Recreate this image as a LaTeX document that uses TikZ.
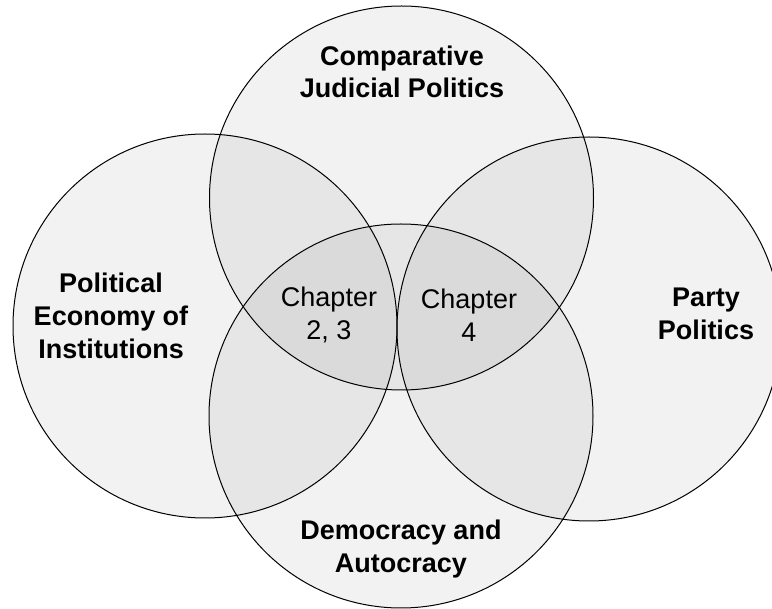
\documentclass[tikz,border=0pt]{standalone}
\usepackage{fontspec}
\setmainfont{Liberation Sans}
\tikzset{
  venn/.style={draw=black, line width=0.75, fill=black, fill opacity=0.05},
  field/.style={inner sep=0.75pt, align=center, font=\bfseries\fontsize{20.25}{24.5}\selectfont},
  chapter/.style={inner sep=0.75pt, align=center, font=\fontsize{20.25}{24.5}\selectfont}
}
\begin{document}
\begin{tikzpicture}[x=0.75pt,y=0.75pt,yscale=-1,xscale=1]
\useasboundingbox (0,0) rectangle (772,609);
\clip (0,0) rectangle (772,609);

%Shape: Circle [top]
\draw [venn] (401.5,198) circle (192);
%Shape: Circle [bottom]
\draw [venn] (401,416) circle (192);
%Shape: Circle [left]
\draw [venn] (205,326) circle (192);
%Shape: Circle [right]
\draw [venn] (589,329) circle (192);

% Text Node
\node [field] (judicial) at (402,72) {Comparative\\Judicial Politics};
% Text Node
\node [field] (economy) at (111,316) {Political\\Economy of\\Institutions};
% Text Node
\node [field] (party) at (706,314) {Party\\Politics};
% Text Node
\node [field] (democracy) at (401,549) {Democracy and\\Autocracy};
% Text Node
\node [chapter] (chtwo) at (329,315) {Chapter\\2, 3};
% Text Node
\node [chapter] (chfour) at (469,315) {Chapter\\4};

\end{tikzpicture}
\end{document}
